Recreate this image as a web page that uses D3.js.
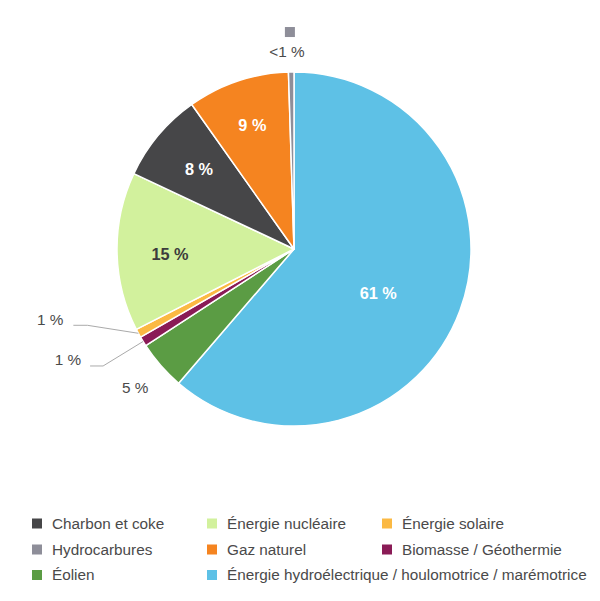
<!DOCTYPE html>
<html>
<head>
<meta charset="utf-8">
<script src="https://cdn.jsdelivr.net/npm/d3@7/dist/d3.min.js"></script>
<style>
  html, body { margin: 0; padding: 0; background: #fff; }
  svg { display: block; font-family: "Liberation Sans", Arial, Helvetica, sans-serif; }
</style>
</head>
<body>
<svg id="chart" width="600" height="601"></svg>
<script>
// ---- Data (clockwise from 12 o'clock) ----
const categories = [
  "Énergie hydroélectrique / houlomotrice / marémotrice",
  "Éolien",
  "Biomasse / Géothermie",
  "Énergie solaire",
  "Énergie nucléaire",
  "Charbon et coke",
  "Gaz naturel",
  "Hydrocarbures"
];
const values = [61.3, 4.5, 0.9, 0.8, 14.5, 8.2, 9.3, 0.5];
const valueLabels = ["61 %", "5 %", "1 %", "1 %", "15 %", "8 %", "9 %", "<1 %"];
const colors = ["#5ec1e6", "#5b9c44", "#8a1b56", "#fbb943", "#d2f19d", "#464648", "#f58420", "#8e8e99"];

// Legend order (row by row)
const legendOrder = [
  "Charbon et coke", "Énergie nucléaire", "Énergie solaire",
  "Hydrocarbures", "Gaz naturel", "Biomasse / Géothermie",
  "Éolien", "Énergie hydroélectrique / houlomotrice / marémotrice"
];

// ---- Layout ----
const svg = d3.select("#chart");
const cx = 294, cy = 249, R = 177;
const textColor = "#4a4a4a";
const fs = 15.3;

const color = d3.scaleOrdinal().domain(categories).range(colors);
const slices = categories.map((c, i) => ({ cat: c, value: values[i], label: valueLabels[i] }));

const pie = d3.pie().sort(null).value(d => d.value);
const arcs = pie(slices);
const arc = d3.arc().innerRadius(0).outerRadius(R);
const edgeArc = d3.arc().innerRadius(R).outerRadius(R);

const g = svg.append("g").attr("transform", `translate(${cx},${cy})`);

g.selectAll("path.slice")
  .data(arcs)
  .join("path")
  .attr("class", "slice")
  .attr("d", arc)
  .attr("fill", d => color(d.data.cat))
  .attr("stroke", "#fff")
  .attr("stroke-width", 1.5)
  .attr("stroke-linejoin", "round");

// label placement rules (layout only)
const placement = {
  "Énergie hydroélectrique / houlomotrice / marémotrice": { type: "inside", r: 124, dx: -32, dy: 1, fill: "#fff" },
  "Énergie nucléaire": { type: "inside", r: 124, dx: 0, dy: 3, fill: "#3c3c3c" },
  "Charbon et coke": { type: "inside", r: 124, dx: 0, dy: 0, fill: "#fff" },
  "Gaz naturel": { type: "inside", r: 131, dx: 0, dy: 0, fill: "#fff" },
  "Éolien": { type: "outside", r: 211, dx: 0, dy: 0 },
  "Biomasse / Géothermie": { type: "leader", ex: -40, ey: 24.5, tail: 13, tx: -9, ty: -6.5 },
  "Énergie solaire": { type: "leader", ex: -51, ey: -8, tail: 14, tx: -10, ty: -6 },
  "Hydrocarbures": { type: "marker", r: 197, dx: -4, dy: 0 }
};

function polar(d, r) {
  return d3.arc().innerRadius(r).outerRadius(r).centroid(d);
}

arcs.forEach(d => {
  const p = placement[d.data.cat];
  if (p.type === "inside") {
    const [x, y] = polar(d, p.r);
    g.append("text")
      .attr("x", x + p.dx).attr("y", y + p.dy)
      .attr("dy", "0.35em")
      .attr("text-anchor", "middle")
      .attr("font-size", 16.3).attr("font-weight", "bold")
      .attr("fill", p.fill)
      .text(d.data.label);
  } else if (p.type === "outside") {
    const [x, y] = polar(d, p.r);
    g.append("text")
      .attr("x", x + p.dx).attr("y", y + p.dy)
      .attr("dy", "0.35em")
      .attr("text-anchor", "middle")
      .attr("font-size", fs)
      .attr("fill", textColor)
      .text(d.data.label);
  } else if (p.type === "leader") {
    const [x0, y0] = edgeArc.centroid(d);
    const x1 = x0 + p.ex, y1 = y0 + p.ey;
    const x2 = x1 - p.tail;
    g.append("polyline")
      .attr("points", [[x0, y0], [x1, y1], [x2, y1]].map(q => q.join(",")).join(" "))
      .attr("fill", "none")
      .attr("stroke", "#aaaaaa")
      .attr("stroke-width", 1);
    g.append("text")
      .attr("x", x2 + p.tx).attr("y", y1 + p.ty)
      .attr("dy", "0.35em")
      .attr("text-anchor", "end")
      .attr("font-size", fs)
      .attr("fill", textColor)
      .text(d.data.label);
  } else if (p.type === "marker") {
    const [x, y] = polar(d, p.r);
    g.append("text")
      .attr("x", x + p.dx).attr("y", y + p.dy)
      .attr("dy", "0.35em")
      .attr("text-anchor", "middle")
      .attr("font-size", fs)
      .attr("fill", textColor)
      .text(d.data.label);
    g.append("rect")
      .attr("x", x - 6).attr("y", y - 25)
      .attr("width", 10).attr("height", 10)
      .attr("fill", color(d.data.cat));
  }
});

// ---- Legend ----
const colX = [32, 207, 382];
const rowY = [523.5, 549.5, 575];
const legend = svg.append("g");
legendOrder.forEach((c, i) => {
  const col = i % 3, row = Math.floor(i / 3);
  const item = legend.append("g").attr("transform", `translate(${colX[col]},${rowY[row]})`);
  item.append("rect")
    .attr("x", 0).attr("y", -5)
    .attr("width", 10).attr("height", 10)
    .attr("fill", color(c));
  item.append("text")
    .attr("x", 20).attr("y", 0)
    .attr("dy", "0.35em")
    .attr("font-size", fs)
    .attr("fill", textColor)
    .text(c);
});
</script>
</body>
</html>
